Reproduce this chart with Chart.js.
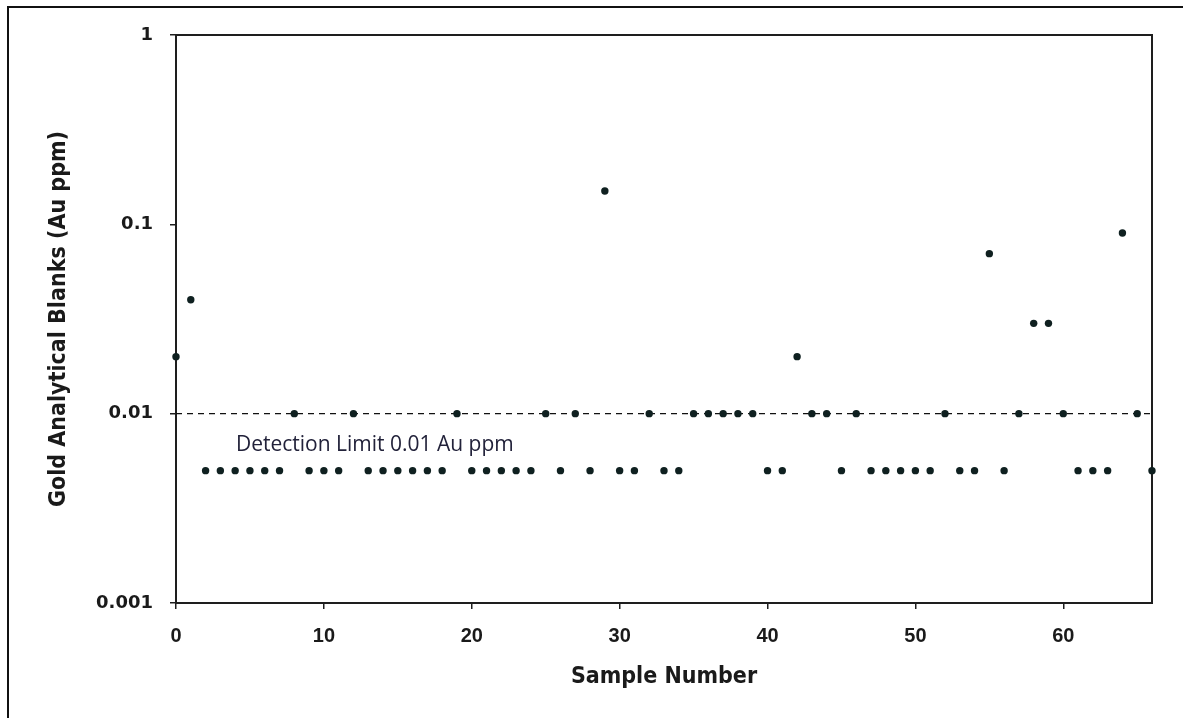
<!DOCTYPE html>
<html>
<head>
<meta charset="utf-8">
<script src="https://cdn.jsdelivr.net/npm/chart.js@4.4.1/dist/chart.umd.min.js"></script>
<style>
  body { margin: 0; background: #fff; }
  #wrap { position: relative; width: 1183px; height: 718px; overflow: hidden; }
  #frame { position: absolute; left: 7px; top: 6px; width: 1200px; height: 740px;
           border-top: 2px solid #111; border-left: 2px solid #111; }
  #chart { position: absolute; left: 0; top: 0; }
</style>
</head>
<body>
<div id="wrap">
  <div id="frame"></div>
  <canvas id="chart" width="1183" height="718"></canvas>
</div>
<script>
const sampleNumbers = [0, 1, 2, 3, 4, 5, 6, 7, 8, 9, 10, 11, 12, 13, 14, 15, 16, 17, 18, 19,
  20, 21, 22, 23, 24, 25, 26, 27, 28, 29, 30, 31, 32, 33, 34, 35, 36, 37, 38, 39,
  40, 41, 42, 43, 44, 45, 46, 47, 48, 49, 50, 51, 52, 53, 54, 55, 56, 57, 58, 59,
  60, 61, 62, 63, 64, 65, 66]
const auValues = [0.02, 0.04, 0.005, 0.005, 0.005, 0.005, 0.005, 0.005, 0.01, 0.005,
  0.005, 0.005, 0.01, 0.005, 0.005, 0.005, 0.005, 0.005, 0.005, 0.01,
  0.005, 0.005, 0.005, 0.005, 0.005, 0.01, 0.005, 0.01, 0.005, 0.15,
  0.005, 0.005, 0.01, 0.005, 0.005, 0.01, 0.01, 0.01, 0.01, 0.01,
  0.005, 0.005, 0.02, 0.01, 0.01, 0.005, 0.01, 0.005, 0.005, 0.005,
  0.005, 0.005, 0.01, 0.005, 0.005, 0.07, 0.005, 0.01, 0.03, 0.03,
  0.01, 0.005, 0.005, 0.005, 0.09, 0.01, 0.005]

const detectionLimit = 0.01
const limitLineX = [0, 66]
const limitLabel = 'Detection Limit 0.01 Au ppm'
const limitLabelPos = { x: 4.05, y: 0.0068 }

const xTickValues = [0, 10, 20, 30, 40, 50, 60]
const yTickValues = [1, 0.1, 0.01, 0.001]
const yTickLabels = ['1', '0.1', '0.01', '0.001']

const xTitle = 'Sample Number'
const yTitle = 'Gold Analytical Blanks (Au ppm)'

const axisColor = '#1e1e1e'
const dotColor = '#0f2020'

const points = sampleNumbers.map((n, i) => ({ x: n, y: auValues[i] }))
const limitLine = limitLineX.map(x => ({ x: x, y: detectionLimit }))

// draws the plot frame and the detection limit note
const extras = {
  id: 'extras',
  beforeDatasetsDraw(chart) {
    const { ctx, chartArea } = chart
    ctx.save()
    ctx.strokeStyle = axisColor
    ctx.lineWidth = 2
    ctx.strokeRect(chartArea.left, chartArea.top, chartArea.right - chartArea.left, chartArea.bottom - chartArea.top)
    ctx.restore()
  },
  afterDatasetsDraw(chart) {
    const { ctx, scales } = chart
    ctx.save()
    ctx.font = '21px "Open Sans", Lato, sans-serif'
    ctx.fillStyle = '#22223a'
    ctx.textBaseline = 'middle'
    ctx.fillText(limitLabel, scales.x.getPixelForValue(limitLabelPos.x), scales.y.getPixelForValue(limitLabelPos.y))
    ctx.restore()
  }
}

new Chart(document.getElementById('chart'), {
  type: 'scatter',
  data: {
    datasets: [
      {
        type: 'line',
        data: limitLine,
        borderColor: '#111',
        borderWidth: 1.3,
        borderDash: [6, 5],
        pointRadius: 0,
        order: 2
      },
      {
        data: points,
        backgroundColor: dotColor,
        borderColor: dotColor,
        pointRadius: 3.7,
        borderWidth: 0,
        clip: false,
        order: 1
      }
    ]
  },
  plugins: [extras],
  options: {
    responsive: false,
    devicePixelRatio: 1,
    animation: false,
    layout: { padding: { left: 0, right: 31, top: 35, bottom: 0 } },
    plugins: { legend: { display: false }, tooltip: { enabled: false } },
    scales: {
      x: {
        type: 'linear',
        min: 0,
        max: 66,
        afterBuildTicks: scale => { scale.ticks = xTickValues.map(v => ({ value: v })) },
        afterFit: scale => { scale.height = 718 - 603 },
        grid: { drawOnChartArea: false, drawTicks: true, tickLength: 6, color: axisColor, lineWidth: 1.5 },
        border: { display: false },
        ticks: {
          color: '#1a1a1a',
          padding: 15,
          font: { family: '"Liberation Sans", Arial, sans-serif', size: 20, weight: 'bold' }
        },
        title: {
          display: true,
          text: xTitle,
          color: '#1a1a1a',
          padding: { top: 0, bottom: 27 },
          font: { family: '"DejaVu Sans Condensed", "DejaVu Sans", sans-serif', size: 23, weight: 'bold' }
        }
      },
      y: {
        type: 'logarithmic',
        min: 0.001,
        max: 1,
        afterBuildTicks: scale => { scale.ticks = yTickValues.map(v => ({ value: v })) },
        afterFit: scale => { scale.width = 176 },
        grid: { drawOnChartArea: false, drawTicks: true, tickLength: 6, color: axisColor, lineWidth: 1.5 },
        border: { display: false },
        ticks: {
          color: '#1a1a1a',
          padding: 17,
          callback: (v) => yTickLabels[yTickValues.indexOf(v)],
          font: { family: '"DejaVu Sans", sans-serif', size: 18, weight: 'bold' }
        },
        title: {
          display: true,
          text: yTitle,
          color: '#1a1a1a',
          padding: { top: 45, bottom: 0 },
          font: { family: '"DejaVu Sans Condensed", "DejaVu Sans", sans-serif', size: 23, weight: 'bold' }
        }
      }
    }
  }
})
</script>
</body>
</html>
